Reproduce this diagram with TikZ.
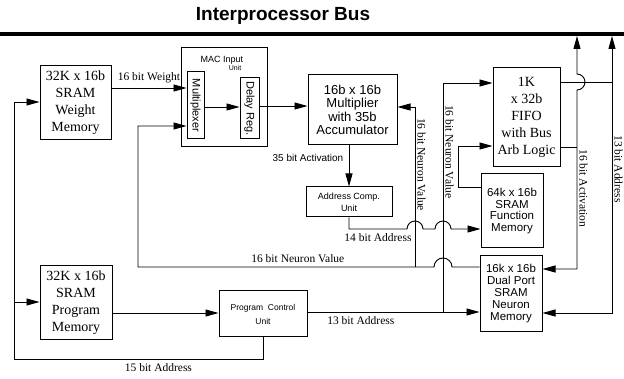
\documentclass[tikz,border=0pt]{standalone}
\usepackage{fontspec}
\setmainfont{Liberation Serif}
\setsansfont{Liberation Sans}
\usepackage{tikz}
\usetikzlibrary{arrows.meta, calc}

\tikzset{
  blk/.style={draw, line width=1pt, inner sep=0pt, align=center},
  wire/.style={line width=0.9pt},
  arr/.style={wire, -{Triangle[length=13pt,width=7pt]}},
  biarr/.style={wire, {Triangle[length=13pt,width=7pt]}-{Triangle[length=13pt,width=7pt]}},
  seriflbl/.style={font=\fontsize{11.5}{13}\selectfont},
  sanslbl/.style={font=\sffamily\fontsize{9}{11}\selectfont},
  vlbl/.style={seriflbl, rotate=-90, anchor=south, inner sep=2pt},
}

\begin{document}
\begin{tikzpicture}[x=1pt, y=-1pt]
    \path[use as bounding box] (0,0) rectangle (624,379);

    % interprocessor bus
    \node[font=\sffamily\bfseries\fontsize{19}{22}\selectfont] (title) at (283,16) {Interprocessor Bus};
    \draw[line width=3.5pt] (0,34) -- (624,34);
    \coordinate (busA) at (577,36);
    \coordinate (busB) at (612,36);

    % blocks
    \node[blk, minimum width=71pt, minimum height=74pt, font=\fontsize{14}{17}\selectfont] (wmem) at (75.5,103) {32K x 16b\\SRAM\\Weight\\Memory};
    \node[blk, minimum width=86pt, minimum height=99pt] (mac) at (224,97.5) {};
    \node[sanslbl, align=center] (macname) at (222,60) {MAC Input};
    \node[font=\sffamily\fontsize{7}{8}\selectfont] (macunit) at (235,68) {Unit};
    \node[blk, minimum width=17pt, minimum height=67pt, font=\sffamily\fontsize{11}{12}\selectfont] (mux) at (195.5,105.5) {\rotatebox{-90}{Multiplexer}};
    \node[blk, minimum width=19pt, minimum height=61pt, font=\sffamily\fontsize{11}{12}\selectfont] (dreg) at (249.5,108.5) {\rotatebox{-90}{Delay Reg.}};
    \node[blk, minimum width=89pt, minimum height=70pt, font=\sffamily\fontsize{13}{13.5}\selectfont] (mult) at (352.5,110) {16b x 16b\\Multiplier\\with 35b\\Accumulator};
    \node[blk, minimum width=86pt, minimum height=30pt, font=\sffamily\fontsize{9}{12}\selectfont] (acu) at (349,202) {Address Comp.\\Unit};
    \node[blk, minimum width=67pt, minimum height=99pt, font=\fontsize{14}{17}\selectfont] (fifo) at (526.5,117.5) {1K\\x 32b\\FIFO\\with Bus\\Arb Logic};
    \node[blk, minimum width=62pt, minimum height=74pt, font=\sffamily\fontsize{11.5}{11.5}\selectfont] (fmem) at (512,211) {64k x 16b\\SRAM\\Function\\Memory};
    \node[blk, minimum width=62pt, minimum height=76pt, font=\sffamily\fontsize{11.5}{12}\selectfont] (nmem) at (511,294) {16k x 16b\\Dual Port\\SRAM\\Neuron\\Memory};
    \node[blk, minimum width=72pt, minimum height=74pt, font=\fontsize{14}{17}\selectfont] (pmem) at (76,303) {32K x 16b\\SRAM\\Program\\Memory};
    \node[blk, minimum width=88pt, minimum height=46pt, font=\sffamily\fontsize{8.5}{14}\selectfont] (pcu) at (263,314) {Program~~Control\\Unit};

    % junction points
    \coordinate (nvj) at (415,267);
    \coordinate (adj) at (443,312);
    \coordinate (aw) at (14,102);
    \coordinate (ap) at (14,302);

    % MAC data path
    \draw[arr] (wmem.east |- 0,88) -- node[seriflbl, above=1pt] {16 bit Weight} (mux.west |- 0,88);
    \draw[arr] (mux.east |- 0,107) -- (dreg.west |- 0,107);
    \draw[arr] (dreg.east |- 0,106) -- (mult.west |- 0,106);
    \draw[arr] (mult.south -| acu.north) -- node[sanslbl, font=\sffamily\fontsize{10}{12}\selectfont, pos=0.3, left=2pt] {35 bit Activation} (acu.north);
    \draw[arr] (acu.south) -- (acu.south |- 0,229) -- node[seriflbl, below=1pt] {14 bit Address} (407,229)
        arc[start angle=180, end angle=0, radius=8pt] -- (435,229)
        arc[start angle=180, end angle=0, radius=8pt] -- (fmem.west |- 0,229);
    \draw[arr] (fmem.west |- 0,187) -- ++(-22,0) |- (fifo.west |- 0,146);

    % neuron value feedback
    \draw[arr] (nmem.west |- 0,267) -- (452,267) arc[start angle=0, end angle=180, radius=9pt]
        -- node[seriflbl, above=1pt, pos=0.46] {16 bit Neuron Value} (138,267) |- (mux.west |- 0,126);
    \draw[arr] (nvj) -- node[vlbl, pos=0.64] {16 bit Neuron Value} (415,107) -- (mult.east |- 0,107);

    % program side
    \draw[arr] (pmem.east |- 0,313) -- (pcu.west |- 0,313);
    \draw[arr] (pcu.east |- 0,312) -- node[seriflbl, below=1pt, pos=0.31] {13 bit Address} (nmem.west |- 0,312);
    \draw[arr] (adj) -- node[vlbl, pos=0.7] {16 bit Neuron Value} (443,83) -- (fifo.west |- 0,83);
    \draw[wire] (pcu.south) -- (pcu.south |- 0,359) -- node[seriflbl, below=1pt, pos=0.42] {15 bit Address} (14,359) -- (aw);
    \draw[arr] (aw) -- (wmem.west |- aw);
    \draw[arr] (ap) -- (pmem.west |- ap);

    % FIFO to bus and neuron memory
    \draw[wire] (fifo.east |- 0,82) -- (612,82);
    \draw[wire] (fifo.east |- 0,147) -- (577,147);
    \draw[biarr] (busB) -- node[vlbl, pos=0.48] {13 bit Address} (612,313) -- (nmem.east |- 0,313);
    \draw[biarr] (busA) -- (577,74) arc[start angle=90, end angle=-90, radius=8pt]
        -- node[vlbl, pos=0.55] {16 bit Activation} (577,269) -- (nmem.east |- 0,269);
\end{tikzpicture}
\end{document}
